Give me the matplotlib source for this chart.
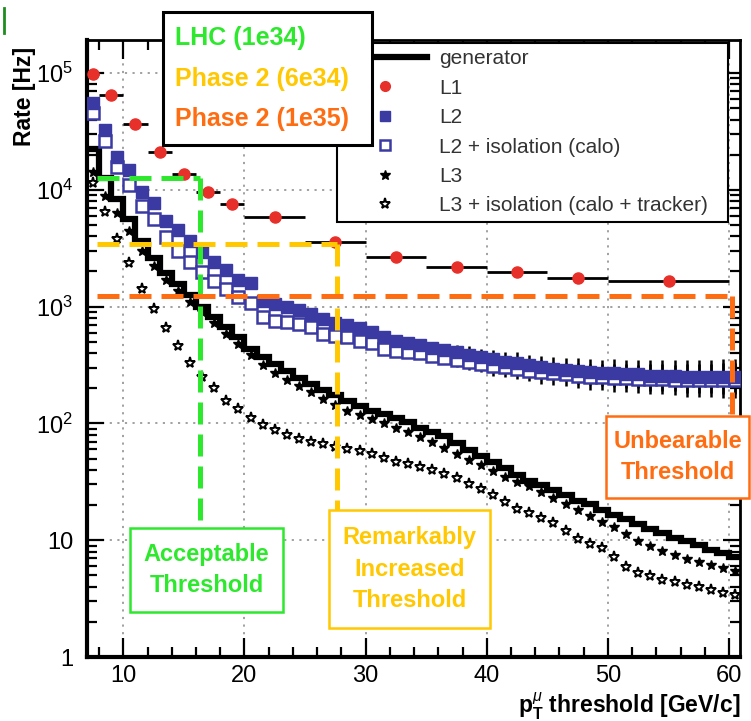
import numpy as np
import matplotlib
matplotlib.use("Agg")
import matplotlib.pyplot as plt
from matplotlib.lines import Line2D
from matplotlib.patches import Rectangle
from matplotlib.ticker import FixedLocator, FixedFormatter, MultipleLocator, LogLocator, NullFormatter

plt.rcParams['font.family'] = ['Liberation Sans', 'DejaVu Sans']
plt.rcParams['mathtext.fontset'] = 'custom'
plt.rcParams['mathtext.rm'] = 'Liberation Sans'
plt.rcParams['mathtext.it'] = 'Liberation Sans:italic'
plt.rcParams['mathtext.bf'] = 'Liberation Sans:bold'

# 1 GeV/c bins from 7 to 61 GeV/c
bin_edges = np.arange(7, 62, 1)
bin_centres = bin_edges[:-1] + 0.5

# log10(rate / Hz), one value per bin
generator_log = [4.35, 4.10, 3.92, 3.75, 3.56, 3.42, 3.29, 3.19, 3.10, 3.00,
                 2.91, 2.83, 2.74, 2.64, 2.57, 2.51, 2.45, 2.39, 2.34, 2.29,
                 2.24, 2.19, 2.15, 2.11, 2.08, 2.05, 2.01, 1.96, 1.93, 1.89,
                 1.83, 1.77, 1.72, 1.67, 1.62, 1.56, 1.51, 1.47, 1.43, 1.39,
                 1.34, 1.31, 1.26, 1.22, 1.18, 1.14, 1.10, 1.06, 1.02, 0.99,
                 0.96, 0.92, 0.89, 0.86]
l3_log = [4.15, 3.95, 3.80, 3.65, 3.48, 3.35, 3.23, 3.13, 3.04, 2.95,
          2.86, 2.77, 2.68, 2.59, 2.50, 2.43, 2.37, 2.32, 2.27, 2.21,
          2.16, 2.11, 2.07, 2.04, 2.00, 1.96, 1.93, 1.88, 1.84, 1.79,
          1.74, 1.69, 1.64, 1.59, 1.54, 1.50, 1.46, 1.41, 1.36, 1.31,
          1.26, 1.21, 1.16, 1.11, 1.05, 0.99, 0.95, 0.91, 0.87, 0.84,
          0.81, 0.79, 0.76, 0.74]
l3iso_log = [4.06, 3.81, 3.58, 3.37, 3.15, 2.98, 2.82, 2.66, 2.52, 2.40,
             2.30, 2.19, 2.12, 2.05, 1.99, 1.94, 1.90, 1.87, 1.84, 1.82,
             1.80, 1.78, 1.76, 1.74, 1.70, 1.67, 1.65, 1.63, 1.60, 1.57,
             1.53, 1.48, 1.44, 1.39, 1.33, 1.27, 1.23, 1.19, 1.15, 1.08,
             1.01, 0.97, 0.93, 0.86, 0.77, 0.72, 0.69, 0.66, 0.64, 0.62,
             0.60, 0.57, 0.55, 0.53]
l2_log = [4.74, 4.51, 4.28, 4.17, 3.98, 3.89, 3.73, 3.66, 3.56, 3.47,
          3.38, 3.31, 3.23, 3.20, 3.05, 3.02, 3.00, 2.97, 2.94, 2.89,
          2.86, 2.84, 2.82, 2.78, 2.74, 2.71, 2.69, 2.67, 2.65, 2.63,
          2.61, 2.59, 2.57, 2.55, 2.53, 2.52, 2.50, 2.48, 2.47, 2.46,
          2.45, 2.44, 2.43, 2.43, 2.42, 2.42, 2.41, 2.41, 2.41, 2.40,
          2.40, 2.40, 2.40, 2.40]
l2iso_log = [4.66, 4.42, 4.20, 4.04, 3.86, 3.75, 3.60, 3.48, 3.38, 3.30,
             3.22, 3.15, 3.08, 3.03, 2.91, 2.88, 2.87, 2.85, 2.83, 2.77,
             2.75, 2.74, 2.71, 2.69, 2.64, 2.62, 2.61, 2.60, 2.58, 2.56,
             2.54, 2.53, 2.51, 2.49, 2.48, 2.47, 2.45, 2.44, 2.43, 2.42,
             2.41, 2.40, 2.40, 2.39, 2.39, 2.38, 2.38, 2.38, 2.37, 2.37,
             2.37, 2.37, 2.37, 2.37]
# statistical error on the L2 points, in log10 units
l2_err_log = [0.01, 0.01, 0.01, 0.01, 0.01, 0.01, 0.01, 0.01, 0.01, 0.01,
              0.01, 0.01, 0.01, 0.01, 0.01, 0.01, 0.01, 0.01, 0.01, 0.02,
              0.02, 0.02, 0.02, 0.02, 0.03, 0.03, 0.04, 0.04, 0.05, 0.05,
              0.06, 0.07, 0.07, 0.08, 0.08, 0.09, 0.09, 0.10, 0.10, 0.10,
              0.11, 0.11, 0.11, 0.12, 0.12, 0.12, 0.13, 0.13, 0.13, 0.14,
              0.14, 0.14, 0.15, 0.15]

# L1 has wider bins
l1_lo = [7, 8, 10, 12, 14, 16, 18, 20, 25, 30, 35, 40, 45, 50]
l1_hi = [8, 10, 12, 14, 16, 18, 20, 25, 30, 35, 40, 45, 50, 60]
l1_rate = [9.8e4, 6.5e4, 3.7e4, 2.1e4, 1.38e4, 9.6e3, 7.6e3, 5.9e3,
           3.57e3, 2.65e3, 2.2e3, 1.97e3, 1.76e3, 1.67e3]

# luminosity scenarios: allowed rate and resulting threshold
lumi_names = ['LHC (1e34)', 'Phase 2 (6e34)', 'Phase 2 (1e35)']
lumi_colors = ['#2de82d', '#ffc800', '#ff6d12']
threshold_pt = [16.3, 27.6, 60.2]
threshold_rate = [1.27e4, 3.45e3, 1.24e3]
threshold_labels = ['Acceptable\nThreshold', 'Remarkably\nIncreased\nThreshold',
                    'Unbearable\nThreshold']

W, H = 751, 721
fig = plt.figure(figsize=(W / 100, H / 100), dpi=100)
ax = fig.add_axes([87 / W, (H - 657) / H, 653 / W, 617 / H])
ax.set_yscale('log')
ax.set_xlim(7, 60.9)
ax.set_ylim(1, 1.92e5)

blue = '#3a3aa2'
red = '#e8302a'

def rate(vals):
    return 10 ** np.array(vals)

def log_err(r, e):
    e = np.array(e)
    return [r - r * 10 ** -e, r * 10 ** e - r]

ax.stairs(rate(generator_log), bin_edges, color='k', lw=4.5, baseline=None, zorder=3)
ax.plot(bin_centres, rate(l3_log), ls='none', marker='*', color='k', ms=7, zorder=4)
ax.plot(bin_centres, rate(l3iso_log), ls='none', marker='*', mfc='white', mec='k',
        mew=1.4, ms=8, zorder=4)

l2iso = rate(l2iso_log)
l2 = rate(l2_log)
ax.errorbar(bin_centres, l2iso, yerr=log_err(l2iso, l2_err_log), fmt='none',
            ecolor='k', elinewidth=1.8, zorder=5)
ax.errorbar(bin_centres, l2, yerr=log_err(l2, l2_err_log), fmt='none',
            ecolor='k', elinewidth=1.8, zorder=5)
ax.plot(bin_centres, l2iso, ls='none', marker='s', mfc='white', mec=blue, mew=1.8,
        ms=8.5, zorder=6)
ax.plot(bin_centres, l2, ls='none', marker='s', color=blue, ms=8, zorder=6)

l1_x = (np.array(l1_lo) + np.array(l1_hi)) / 2
l1_xerr = (np.array(l1_hi) - np.array(l1_lo)) / 2
ax.errorbar(l1_x, l1_rate, xerr=l1_xerr, fmt='none', ecolor='k', elinewidth=2, zorder=6)
ax.plot(l1_x, l1_rate, ls='none', marker='o', color=red, ms=8, zorder=7)

# axes styling
ax.xaxis.set_major_locator(FixedLocator([10, 20, 30, 40, 50, 60]))
ax.xaxis.set_minor_locator(MultipleLocator(2))
ax.yaxis.set_major_locator(FixedLocator([1, 10, 100, 1e3, 1e4, 1e5]))
ax.yaxis.set_major_formatter(FixedFormatter(['1', '10', '$10^{2}$', '$10^{3}$',
                                             '$10^{4}$', '$10^{5}$']))
ax.yaxis.set_minor_locator(LogLocator(base=10, subs=np.arange(2, 10), numticks=20))
ax.yaxis.set_minor_formatter(NullFormatter())
ax.tick_params(which='both', direction='in', top=True, right=True, width=1.6,
               labelsize=17)
ax.tick_params(axis='x', which='major', length=14, pad=6)
ax.tick_params(axis='x', which='minor', length=7)
ax.tick_params(axis='y', which='major', length=12, pad=10)
ax.tick_params(axis='y', which='minor', length=7)
for s in ax.spines.values():
    s.set_linewidth(2)
ax.spines['bottom'].set_linewidth(3)
ax.spines['left'].set_linewidth(3)
ax.grid(True, which='major', color='#9a9a9a', ls=(0, (1.2, 3)), lw=1.3)
ax.set_axisbelow(True)

fig.text(24 / W, 1 - 47 / H, 'Rate [Hz]', rotation=90, ha='center', va='top',
         fontsize=16.5, fontweight='bold')
fig.text(740 / W, 1 - 713 / H, r'p$_{\mathbf{T}}^{\mu}$ threshold [GeV/c]',
         ha='right', va='baseline', fontsize=16.5, fontweight='bold')

# legend
handles = [Line2D([], [], color='k', lw=4.5),
           Line2D([], [], ls='none', marker='o', color=red, ms=7),
           Line2D([], [], ls='none', marker='s', color=blue, ms=7),
           Line2D([], [], ls='none', marker='s', mfc='white', mec=blue, mew=1.8, ms=7),
           Line2D([], [], ls='none', marker='*', color='k', ms=7),
           Line2D([], [], ls='none', marker='*', mfc='white', mec='k', mew=1.4, ms=8)]
labels = ['generator', 'L1', 'L2', 'L2 + isolation (calo)', 'L3',
          'L3 + isolation (calo + tracker)']
leg = ax.legend(handles, labels, loc='upper left', mode='expand',
                bbox_to_anchor=(0.383, 0.684, 0.599, 0.311), fontsize=15,
                frameon=True, fancybox=False, edgecolor='k', framealpha=1,
                borderpad=0.3, labelspacing=0.5, handlelength=4.0,
                handletextpad=0.6, borderaxespad=0)
leg.get_frame().set_linewidth(1.5)
leg.set_zorder(10)
for t in leg.get_texts():
    t.set_color('#333333')

# threshold lines and boxes (box corners in figure pixels: left, top, right, bottom)
boxes = [(130, 528, 283, 612), (329, 510, 490, 628), (606, 416, 749, 498)]
inv = ax.transData.inverted()
for pt, rt, col, box, lab in zip(threshold_pt, threshold_rate, lumi_colors, boxes,
                                 threshold_labels):
    x0, y0, x1, y1 = box
    y_end = inv.transform((0, H - y0))[1]
    ax.plot([7.8, pt], [rt, rt], color=col, lw=3.6, dashes=(4.4, 2.0), zorder=8,
            clip_on=False)
    ax.plot([pt, pt], [rt, y_end], color=col, lw=3.6, dashes=(4.4, 2.0), zorder=8,
            clip_on=False)
    fig.patches.append(Rectangle((x0 / W, 1 - y1 / H), (x1 - x0) / W, (y1 - y0) / H,
                                 transform=fig.transFigure, facecolor='white',
                                 edgecolor=col, lw=1.8, zorder=9))
    fig.text((x0 + x1) / 2 / W, 1 - (y0 + y1) / 2 / H, lab, ha='center', va='center',
             color=col, fontsize=17, fontweight='bold', linespacing=1.45, zorder=10)

# luminosity key box at the top
fig.patches.append(Rectangle((163 / W, 1 - 145 / H), 209 / W, 133 / H,
                             transform=fig.transFigure, facecolor='white',
                             edgecolor='k', lw=2.2, zorder=11))
for name, col, yy in zip(lumi_names, lumi_colors, [38, 79, 119]):
    fig.text(175 / W, 1 - yy / H, name, ha='left', va='center', color=col,
             fontsize=18, fontweight='bold', zorder=12)

fig.lines.append(Line2D([4 / W, 4 / W], [1 - 8 / H, 1 - 33 / H],
                        transform=fig.transFigure, color='#1f8c1f', lw=2))

fig.savefig('out.png', dpi=100)
